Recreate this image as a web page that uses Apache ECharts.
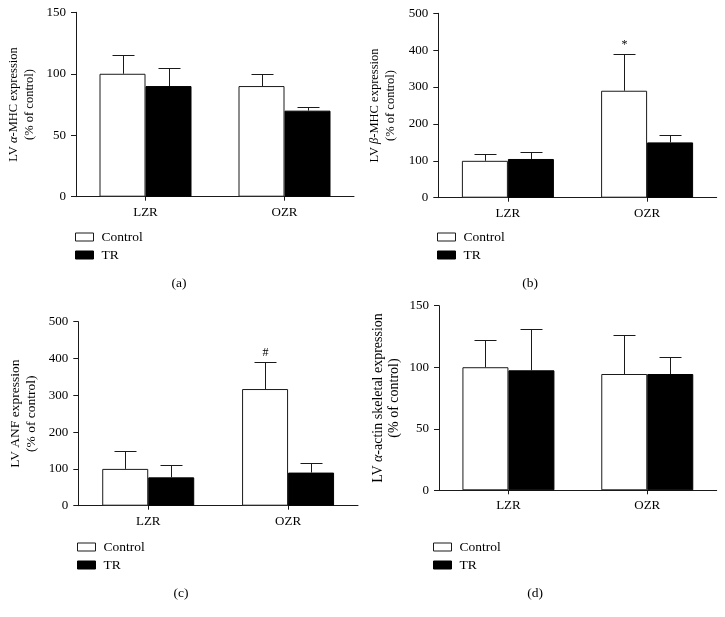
<!DOCTYPE html>
<html>
<head>
<meta charset="utf-8">
<script src="https://cdn.jsdelivr.net/npm/echarts@6/dist/echarts.min.js"></script>
<style>
html,body{margin:0;padding:0;background:#fff;}
#chart{width:725px;height:617px;}
</style>
</head>
<body>
<div id="chart"></div>
<script>
// ---- data ----
const categories = ['LZR', 'OZR'];
const seriesNames = ['Control', 'TR'];

// (a) LV α-MHC
const aControl = [100, 90];
const aControlErrTop = [115, 100];
const aTR = [90, 70];
const aTRErrTop = [105, 73];
const aMarks = ['', ''];
const aTicks = [0, 50, 100, 150];

// (b) LV β-MHC
const bControl = [100, 290];
const bControlErrTop = [119, 390];
const bTR = [105, 150];
const bTRErrTop = [124, 169];
const bMarks = ['', '*'];
const bTicks = [0, 100, 200, 300, 400, 500];

// (c) LV ANF
const cControl = [100, 317];
const cControlErrTop = [149, 390];
const cTR = [77, 90];
const cTRErrTop = [110, 116];
const cMarks = ['', '#'];
const cTicks = [0, 100, 200, 300, 400, 500];

// (d) LV α-actin skeletal
const dControl = [100, 94.5];
const dControlErrTop = [122.5, 126];
const dTR = [97.5, 94.5];
const dTRErrTop = [131, 108.5];
const dMarks = ['', ''];
const dTicks = [0, 50, 100, 150];

const panelLabels = ['(a)', '(b)', '(c)', '(d)'];

// ---- style ----
const FONT = 'Liberation Serif';
const BAR_W = 46;
const CAP = 11;
const LINE = '#1a1a1a';

const panels = [
  {ctrl: aControl, ctrlErr: aControlErrTop, tr: aTR, trErr: aTRErrTop, marks: aMarks, ticks: aTicks,
   name: '{n|LV }{i|α}{n|-MHC expression}\n{n|(% of control)}', nameSize: 12.5,
   grid: {left: 76, top: 12.3, width: 278, height: 184.4}, nameGap: 38,
   legend: {left: 75, top: 230}, label: [179, 283]},
  {ctrl: bControl, ctrlErr: bControlErrTop, tr: bTR, trErr: bTRErrTop, marks: bMarks, ticks: bTicks,
   name: '{n|LV }{i|β}{n|-MHC expression}\n{n|(% of control)}', nameSize: 12.5,
   grid: {left: 438.3, top: 13.3, width: 278.4, height: 184.4}, nameGap: 40,
   legend: {left: 437, top: 230}, label: [530, 283]},
  {ctrl: cControl, ctrlErr: cControlErrTop, tr: cTR, trErr: cTRErrTop, marks: cMarks, ticks: cTicks,
   name: '{n|LV ANF expression}\n{n|(% of control)}', nameSize: 13.5,
   grid: {left: 78.3, top: 321.7, width: 279.7, height: 184}, nameGap: 39,
   legend: {left: 77, top: 540}, label: [181, 593]},
  {ctrl: dControl, ctrlErr: dControlErrTop, tr: dTR, trErr: dTRErrTop, marks: dMarks, ticks: dTicks,
   name: '{n|LV }{i|α}{n|-actin skeletal expression}\n{n|(% of control)}', nameSize: 14,
   grid: {left: 439, top: 305.7, width: 277.7, height: 184.6}, nameGap: 37,
   legend: {left: 433, top: 540}, label: [535, 593]}
];

const option = {
  animation: false,
  backgroundColor: '#fff',
  textStyle: {fontFamily: FONT, color: '#000'},
  grid: [], xAxis: [], yAxis: [], series: [], legend: [], graphic: []
};

panels.forEach((p, k) => {
  option.grid.push(Object.assign({containLabel: false}, p.grid));
  option.xAxis.push({
    type: 'category', gridIndex: k, data: categories,
    axisLine: {lineStyle: {color: LINE, width: 1}},
    axisTick: {show: true, alignWithLabel: true, length: 4, lineStyle: {color: LINE}},
    axisLabel: {fontFamily: FONT, fontSize: 13, color: '#000', margin: 9},
    splitLine: {show: false}
  });
  const tmax = p.ticks[p.ticks.length - 1];
  option.yAxis.push({
    type: 'value', gridIndex: k, min: p.ticks[0], max: tmax,
    interval: p.ticks[1] - p.ticks[0],
    axisLine: {show: true, lineStyle: {color: LINE, width: 1}},
    axisTick: {show: true, length: 5, lineStyle: {color: LINE}},
    axisLabel: {fontFamily: FONT, fontSize: 13, color: '#000', margin: 10},
    splitLine: {show: false},
    name: p.name, nameLocation: 'middle', nameGap: p.nameGap, nameRotate: 90,
    nameTextStyle: {
      fontFamily: FONT, color: '#000', align: 'center', lineHeight: 16,
      rich: {
        n: {fontFamily: FONT, fontSize: p.nameSize, color: '#000', lineHeight: 16},
        i: {fontFamily: FONT, fontSize: p.nameSize, color: '#000', fontStyle: 'italic', lineHeight: 16}
      }
    }
  });
  option.series.push({
    type: 'bar', name: 'Control', xAxisIndex: k, yAxisIndex: k, data: p.ctrl,
    barWidth: BAR_W, barGap: '0%',
    itemStyle: {color: '#fff', borderColor: LINE, borderWidth: 1}
  });
  option.series.push({
    type: 'bar', name: 'TR', xAxisIndex: k, yAxisIndex: k, data: p.tr,
    barWidth: BAR_W, barGap: '0%',
    itemStyle: {color: '#000', borderColor: '#000', borderWidth: 1}
  });
  const errData = [];
  categories.forEach((c, i) => {
    errData.push([i, p.ctrlErr[i], p.ctrl[i], -1]);
    errData.push([i, p.trErr[i], p.tr[i], 1]);
  });
  const marks = p.marks;
  option.series.push({
    type: 'custom', xAxisIndex: k, yAxisIndex: k, data: errData, z: 5,
    encode: {x: 0, y: 1},
    silent: true,
    renderItem: function (params, api) {
      const ci = api.value(0);
      const top = api.coord([ci, api.value(1)]);
      const base = api.coord([ci, api.value(2)]);
      const side = api.value(3);
      const cx = Math.round(top[0] + side * BAR_W / 2) + 0.5;
      const ty = Math.round(top[1]) + 0.5;
      const children = [
        {type: 'line', shape: {x1: cx, y1: base[1], x2: cx, y2: ty}, style: {stroke: LINE, lineWidth: 1}},
        {type: 'line', shape: {x1: cx - CAP, y1: ty, x2: cx + CAP, y2: ty}, style: {stroke: LINE, lineWidth: 1}}
      ];
      const catIdx = Math.floor(params.dataIndex / 2);
      if (side < 0 && marks[catIdx]) {
        children.push({type: 'text', x: cx, y: ty - 4,
          style: {text: marks[catIdx], fill: '#000', font: '12px "Liberation Serif"', align: 'center', verticalAlign: 'bottom'}});
      }
      return {type: 'group', children: children};
    }
  });
  option.legend.push({
    data: [
      {name: 'Control', itemStyle: {color: '#fff', borderColor: LINE, borderWidth: 1}},
      {name: 'TR', itemStyle: {color: '#000', borderColor: '#000', borderWidth: 1}}
    ],
    orient: 'vertical', left: p.legend.left, top: p.legend.top,
    icon: 'rect', itemWidth: 18, itemHeight: 8, itemGap: 4, padding: 0,
    selectedMode: false,
    textStyle: {fontFamily: FONT, fontSize: 13.5, color: '#000', padding: [0, 0, 0, 3]}
  });
  option.graphic.push({
    type: 'text', x: p.label[0], y: p.label[1],
    style: {text: panelLabels[k], fill: '#000', font: '13.5px "Liberation Serif"', align: 'center', verticalAlign: 'middle'}
  });
});

const chart = echarts.init(document.getElementById('chart'), null, {renderer: 'canvas'});
chart.setOption(option);
</script>
</body>
</html>
